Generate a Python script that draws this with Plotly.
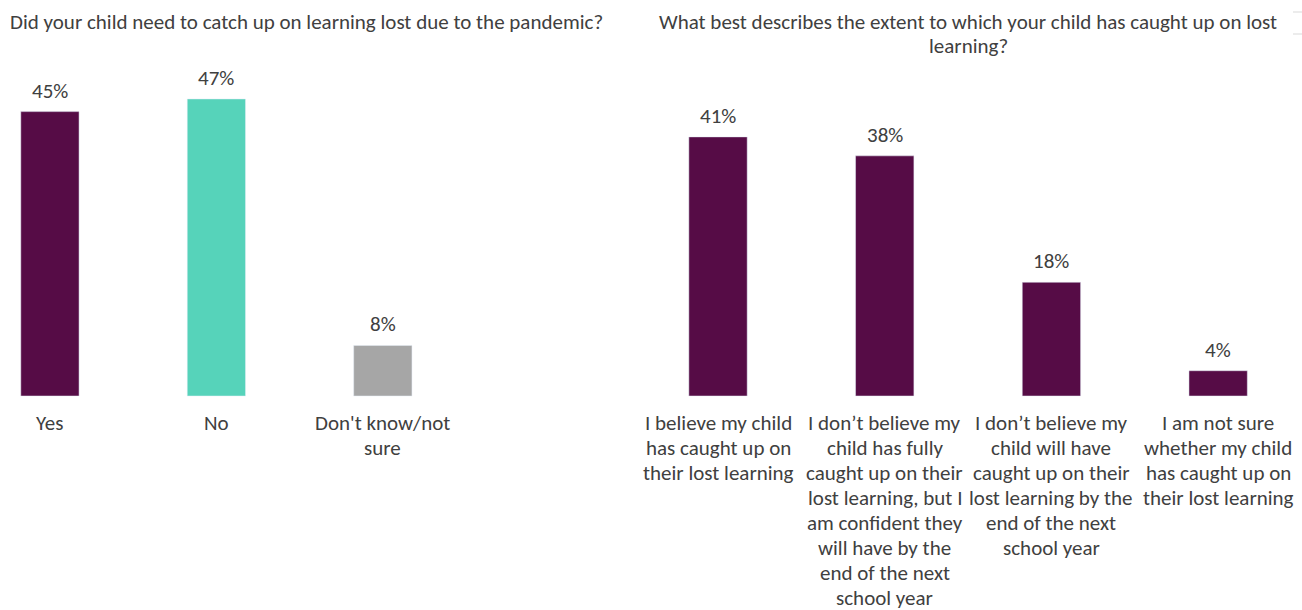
import plotly.graph_objects as go

# Survey question 1: need to catch up on lost learning
q1_title = ["Did your child need to catch up on learning lost due to the pandemic?"]
q1_categories = ["Yes", "No", "Don't know/not sure"]
q1_labels = [["Yes"], ["No"], ["Don't know/not", "sure"]]
q1_values = [45, 47, 8]
q1_colors = ["#560C46", "#56D3BA", "#A6A6A6"]

# Survey question 2: extent of catching up
q2_title = ["What best describes the extent to which your child has caught up on lost",
            "learning?"]
q2_labels = [
    ["I believe my child", "has caught up on", "their lost learning"],
    ["I don\u2019t believe my", "child has fully", "caught up on their",
     "lost learning, but I", "am confident they", "will have by the",
     "end of the next", "school year"],
    ["I don\u2019t believe my", "child will have", "caught up on their",
     "lost learning by the", "end of the next", "school year"],
    ["I am not sure", "whether my child", "has caught up on", "their lost learning"],
]
q2_categories = [" ".join(lines) for lines in q2_labels]
q2_values = [41, 38, 18, 4]
q2_color = "#560C46"

FONT = "Carlito, Calibri, Lato, sans-serif"
TXT = "#404040"
SIZE = 21
LINE = 25  # line pitch for wrapped text, px

fig = go.Figure()
fig.add_trace(go.Bar(x=q1_categories, y=q1_values, marker_color=q1_colors,
                     width=0.35, xaxis="x", yaxis="y", hoverinfo="skip"))
fig.add_trace(go.Bar(x=q2_categories, y=q2_values, marker_color=q2_color,
                     width=0.35, xaxis="x2", yaxis="y2", hoverinfo="skip"))

annotations = []
for axis, yref, cats, labels, vals in (
    ("x", "y", q1_categories, q1_labels, q1_values),
    ("x2", "y2", q2_categories, q2_labels, q2_values),
):
    for c, lines, v in zip(cats, labels, vals):
        annotations.append(dict(x=c, y=v, xref=axis, yref=yref, text=f"{v}%",
                                showarrow=False, yanchor="bottom", yshift=6,
                                font=dict(size=SIZE, color=TXT, family=FONT)))
        for k, line in enumerate(lines):
            annotations.append(dict(x=c, y=-4.27, xref=axis, yref=yref, text=line,
                                    showarrow=False, yanchor="middle",
                                    yshift=-LINE * k,
                                    font=dict(size=SIZE, color=TXT, family=FONT)))

for k, line in enumerate(q1_title):
    annotations.append(dict(x=8 / 1302, y=1 - 22 / 610, xref="paper", yref="paper",
                            xanchor="left", yanchor="middle", yshift=-24 * k,
                            text=line, showarrow=False,
                            font=dict(size=SIZE, color=TXT, family=FONT)))
for k, line in enumerate(q2_title):
    annotations.append(dict(x=968 / 1302, y=1 - 22 / 610, xref="paper", yref="paper",
                            xanchor="center", yanchor="middle", yshift=-24 * k,
                            text=line, showarrow=False,
                            font=dict(size=SIZE, color=TXT, family=FONT)))

yrange = [-33.86, 62.66]
fig.update_layout(
    width=1302, height=610,
    margin=dict(l=0, r=0, t=0, b=0),
    paper_bgcolor="white", plot_bgcolor="white",
    showlegend=False,
    xaxis=dict(domain=[0, 0.45], range=[-0.3, 3.22], visible=False),
    yaxis=dict(domain=[0, 1], range=yrange, visible=False),
    xaxis2=dict(domain=[0.5, 1], range=[-0.402, 3.503], visible=False),
    yaxis2=dict(domain=[0, 1], range=yrange, visible=False, anchor="x2"),
    annotations=annotations,
    shapes=[
        dict(type="line", xref="paper", yref="paper", x0=1293 / 1302, x1=1,
             y0=1 - 12 / 610, y1=1 - 12 / 610, line=dict(color="#D9D9D9", width=1)),
        dict(type="line", xref="paper", yref="paper", x0=1293 / 1302, x1=1,
             y0=1 - 34 / 610, y1=1 - 34 / 610, line=dict(color="#D9D9D9", width=1)),
    ],
)

fig.write_html("out.html", config={"displayModeBar": False})
